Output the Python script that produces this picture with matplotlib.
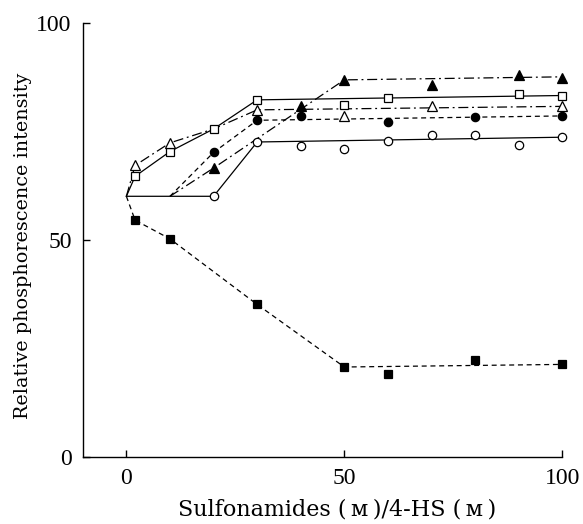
import matplotlib
matplotlib.use("Agg")
import matplotlib.pyplot as plt

plt.rcParams['font.family'] = ['DejaVu Serif', 'DejaVu Sans']

# --- measured points (markers) ---
osq_x = [2, 10, 20, 30, 50, 60, 90, 100]
osq_y = [64.6, 70.3, 75.5, 82.2, 81.1, 82.6, 83.6, 83.1]
otri_x = [2, 10, 30, 50, 70, 100]
otri_y = [67.1, 72.3, 79.9, 78.5, 80.7, 80.7]
ftri_x = [20, 40, 50, 70, 90, 100]
ftri_y = [66.5, 80.7, 86.8, 85.7, 88.0, 87.2]
fcir_x = [20, 30, 40, 60, 80, 100]
fcir_y = [70.1, 77.5, 78.5, 77.0, 78.2, 78.5]
ocir_x = [20, 30, 40, 50, 60, 70, 80, 90, 100]
ocir_y = [60.0, 72.5, 71.5, 70.9, 72.8, 74.0, 74.0, 71.7, 73.6]
fsq_x = [2, 10, 30, 50, 60, 80, 100]
fsq_y = [54.5, 50.2, 35.1, 20.7, 19.2, 22.4, 21.4]

# --- fitted line vertices ---
osq_lx = [0, 2, 10, 20, 30, 100]
osq_ly = [60, 64.6, 70.3, 75.5, 82.2, 83.2]
otri_lx = [0, 2, 10, 20, 30, 100]
otri_ly = [60, 67.1, 72.3, 75.5, 79.9, 80.7]
ftri_lx = [10, 20, 50, 100]
ftri_ly = [60, 66.5, 86.8, 87.5]
fcir_lx = [10, 20, 30, 100]
fcir_ly = [60, 70.1, 77.5, 78.5]
ocir_lx = [0, 20, 30, 100]
ocir_ly = [60, 60, 72.5, 73.6]
fsq_lx = [0, 2, 10, 30, 50, 100]
fsq_ly = [60, 54.5, 50.2, 35.1, 20.7, 21.3]

xticks = [0, 50, 100]
yticks = [0, 50, 100]

fig = plt.figure(figsize=(5.83, 5.24), dpi=100)
ax = fig.add_axes([0.142, 0.128, 0.8225, 0.829])
ax.set_xlim(-10, 100)
ax.set_ylim(0, 100)

lw = 0.9
dash = (0, (4, 3))
dashdot = (0, (8, 3, 1.5, 3))

ax.plot(osq_lx, osq_ly, color='black', lw=lw, ls='-', clip_on=False)
ax.plot(otri_lx, otri_ly, color='black', lw=lw, ls=dashdot, clip_on=False)
ax.plot(ftri_lx, ftri_ly, color='black', lw=lw, ls=dashdot, clip_on=False)
ax.plot(fcir_lx, fcir_ly, color='black', lw=lw, ls=dash, clip_on=False)
ax.plot(ocir_lx, ocir_ly, color='black', lw=lw, ls='-', clip_on=False)
ax.plot(fsq_lx, fsq_ly, color='black', lw=lw, ls=dash, clip_on=False)

ms = 6.0
mk = dict(ls='none', mec='black', mew=0.9, clip_on=False)
ax.plot(osq_x, osq_y, marker='s', ms=ms, mfc='white', **mk)
ax.plot(otri_x, otri_y, marker='^', ms=ms + 0.5, mfc='white', **mk)
ax.plot(ftri_x, ftri_y, marker='^', ms=ms + 0.5, mfc='black', **mk)
ax.plot(fcir_x, fcir_y, marker='o', ms=ms, mfc='black', **mk)
ax.plot(ocir_x, ocir_y, marker='o', ms=ms, mfc='white', **mk)
ax.plot(fsq_x, fsq_y, marker='s', ms=ms - 0.5, mfc='black', **mk)

for s in ['top', 'right']:
    ax.spines[s].set_visible(False)
for s in ['left', 'bottom']:
    ax.spines[s].set_linewidth(1.0)

ax.set_xticks(xticks)
ax.set_yticks(yticks)
ax.set_xticklabels([str(v) for v in xticks], family=['Liberation Serif', 'DejaVu Serif'])
ax.set_yticklabels([str(v) for v in yticks], family=['Liberation Serif', 'DejaVu Serif'])
ax.tick_params(direction='in', length=5, width=1.0, labelsize=17)
ax.tick_params(axis='x', pad=8)
ax.tick_params(axis='y', pad=8)

ax.set_ylabel('Relative phosphorescence intensity', fontsize=13.8)
ax.yaxis.set_label_coords(-0.106, 0.485)
ax.set_xlabel('Sulfonamides (\u2009\u1d0d\u2009)/4-HS (\u2009\u1d0d\u2009)', fontsize=16)
ax.xaxis.set_label_coords(0.531, -0.096)

fig.savefig('out.png', dpi=100)
